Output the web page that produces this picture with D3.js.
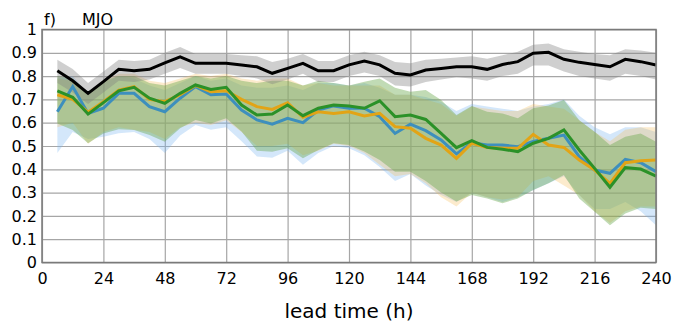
<!DOCTYPE html>
<html>
<head>
<meta charset="utf-8">
<script src="https://cdn.jsdelivr.net/npm/d3@7"></script>
<style>
  body { margin: 0; background: #fff; }
  svg { display: block; font-family: "DejaVu Sans", Verdana, sans-serif; }
  .grid line { stroke: #a6a6a6; stroke-width: 1.2; }
  .grid path { display: none; }
</style>
</head>
<body>
<svg id="chart" width="675" height="324"></svg>
<script>
// lead times (h)
var hours = [6,12,18,24,30,36,42,48,54,60,66,72,78,84,90,96,102,108,114,120,
             126,132,138,144,150,156,162,168,174,180,186,192,198,204,210,216,222,228,234,240];

var blackMean = [0.823,0.78,0.726,0.776,0.829,0.823,0.829,0.857,0.883,0.855,0.855,0.855,0.848,0.84,0.812,0.833,0.855,0.823,0.823,0.848,
                 0.865,0.848,0.812,0.805,0.826,0.833,0.84,0.84,0.829,0.85,0.862,0.898,0.902,0.872,0.859,0.85,0.84,0.872,0.862,0.848];
var blackHi = [0.87,0.83,0.77,0.82,0.87,0.865,0.87,0.9,0.925,0.895,0.895,0.895,0.89,0.885,0.86,0.875,0.895,0.865,0.865,0.89,
               0.905,0.89,0.86,0.855,0.87,0.875,0.88,0.885,0.875,0.89,0.905,0.935,0.94,0.915,0.905,0.895,0.89,0.915,0.91,0.9];
var blackLo = [0.77,0.73,0.68,0.73,0.78,0.775,0.785,0.81,0.835,0.81,0.81,0.81,0.8,0.79,0.765,0.785,0.81,0.775,0.775,0.8,
               0.815,0.8,0.76,0.755,0.775,0.785,0.795,0.79,0.78,0.8,0.81,0.845,0.845,0.82,0.8,0.79,0.78,0.81,0.8,0.785];

var blueMean = [0.647,0.755,0.64,0.662,0.726,0.726,0.669,0.647,0.705,0.755,0.72,0.723,0.654,0.612,0.594,0.619,0.6,0.654,0.672,0.662,
                0.662,0.626,0.554,0.594,0.566,0.526,0.466,0.514,0.504,0.504,0.497,0.519,0.533,0.547,0.454,0.397,0.383,0.443,0.428,0.39];
var blueHi = [0.79,0.8,0.72,0.77,0.8,0.79,0.76,0.74,0.77,0.8,0.78,0.79,0.76,0.75,0.75,0.76,0.74,0.77,0.77,0.76,
              0.77,0.75,0.72,0.72,0.71,0.69,0.65,0.68,0.67,0.66,0.65,0.67,0.68,0.7,0.63,0.58,0.55,0.58,0.58,0.56];
var blueLo = [0.47,0.56,0.53,0.54,0.555,0.56,0.53,0.47,0.545,0.59,0.57,0.58,0.52,0.455,0.45,0.48,0.42,0.47,0.5,0.49,
              0.46,0.41,0.35,0.38,0.33,0.29,0.26,0.3,0.28,0.26,0.28,0.31,0.34,0.37,0.29,0.23,0.23,0.26,0.22,0.16];

var orangeMean = [0.72,0.7,0.645,0.69,0.74,0.755,0.7,0.69,0.72,0.76,0.733,0.737,0.7,0.669,0.657,0.686,0.623,0.647,0.64,0.647,
                  0.629,0.64,0.583,0.576,0.533,0.504,0.447,0.512,0.494,0.49,0.49,0.55,0.504,0.494,0.44,0.397,0.34,0.428,0.437,0.44];
var orangeHi = [0.79,0.78,0.73,0.78,0.81,0.81,0.78,0.77,0.79,0.81,0.8,0.81,0.79,0.78,0.79,0.79,0.76,0.77,0.76,0.76,
                0.76,0.76,0.72,0.72,0.7,0.68,0.63,0.67,0.66,0.65,0.65,0.68,0.67,0.66,0.61,0.56,0.52,0.57,0.58,0.58];
var orangeLo = [0.58,0.6,0.51,0.56,0.58,0.57,0.56,0.53,0.58,0.6,0.59,0.61,0.56,0.5,0.5,0.51,0.46,0.48,0.51,0.5,
                0.47,0.42,0.37,0.38,0.34,0.28,0.24,0.3,0.28,0.27,0.28,0.35,0.37,0.33,0.29,0.22,0.17,0.22,0.24,0.24];

var greenMean = [0.737,0.709,0.637,0.686,0.737,0.752,0.705,0.683,0.726,0.762,0.743,0.752,0.676,0.633,0.637,0.676,0.63,0.662,0.676,0.672,
                 0.662,0.694,0.626,0.633,0.614,0.554,0.493,0.523,0.494,0.486,0.476,0.512,0.533,0.569,0.483,0.404,0.323,0.407,0.401,0.371];
var greenHi = [0.8,0.79,0.72,0.78,0.8,0.8,0.77,0.76,0.78,0.8,0.79,0.8,0.78,0.77,0.78,0.78,0.76,0.78,0.77,0.76,
               0.776,0.79,0.75,0.733,0.74,0.697,0.633,0.672,0.647,0.64,0.619,0.662,0.674,0.697,0.61,0.561,0.504,0.54,0.554,0.518];
var greenLo = [0.597,0.569,0.512,0.554,0.572,0.569,0.547,0.518,0.576,0.612,0.597,0.619,0.562,0.48,0.475,0.49,0.447,0.483,0.512,0.504,
               0.476,0.44,0.39,0.39,0.35,0.3,0.262,0.29,0.275,0.254,0.275,0.311,0.34,0.376,0.275,0.218,0.16,0.21,0.235,0.23];

var xTicks = [0,24,48,72,96,120,144,168,192,216,240];
var yTicks = [0,0.1,0.2,0.3,0.4,0.5,0.6,0.7,0.8,0.9,1];

var margin = {left: 42, top: 29.5, right: 19, bottom: 61.5};
var svg = d3.select("#chart");
var W = 675 - margin.left - margin.right;
var H = 324 - margin.top - margin.bottom;

var x = d3.scaleLinear().domain([0, 240]).range([0, W]);
var y = d3.scaleLinear().domain([0, 1]).range([H, 0]);

var g = svg.append("g").attr("transform", "translate(" + margin.left + "," + margin.top + ")");

// grid
g.append("g").attr("class", "grid")
  .call(d3.axisLeft(y).tickValues(yTicks).tickSize(-W).tickFormat(""));
g.append("g").attr("class", "grid").attr("transform", "translate(0," + H + ")")
  .call(d3.axisBottom(x).tickValues(xTicks).tickSize(-H).tickFormat(""));

var series = [
  {mean: blueMean, hi: blueHi, lo: blueLo, line: "#3d8fbd", fill: "rgb(120,180,240)", op: 0.32},
  {mean: orangeMean, hi: orangeHi, lo: orangeLo, line: "#e2a416", fill: "rgb(245,190,90)", op: 0.3},
  {mean: greenMean, hi: greenHi, lo: greenLo, line: "#2b9128", fill: "rgb(100,165,70)", op: 0.4},
  {mean: blackMean, hi: blackHi, lo: blackLo, line: "#000", fill: "rgb(130,130,130)", op: 0.38}
];

var area = function(s) {
  return d3.area()
    .x(function(d, i) { return x(hours[i]); })
    .y0(function(d, i) { return y(s.lo[i]); })
    .y1(function(d, i) { return y(s.hi[i]); });
};
var line = d3.line()
  .x(function(d, i) { return x(hours[i]); })
  .y(function(d) { return y(d); });

series.forEach(function(s) {
  g.append("path")
    .datum(s.mean)
    .attr("d", area(s))
    .attr("fill", s.fill)
    .attr("fill-opacity", s.op);
});

series.forEach(function(s) {
  g.append("path")
    .datum(s.mean)
    .attr("d", line)
    .attr("fill", "none")
    .attr("stroke", s.line)
    .attr("stroke-width", 3)
    .attr("stroke-linejoin", "miter");
});

// frame
g.append("rect")
  .attr("width", W).attr("height", H)
  .attr("fill", "none")
  .attr("stroke", "#7a7a7a")
  .attr("stroke-width", 1.5);

// tick labels
var yAxis = g.append("g")
  .call(d3.axisLeft(y).tickValues(yTicks).tickSize(0).tickPadding(5)
    .tickFormat(function(d) { return String(+d.toFixed(1)); }));
yAxis.select(".domain").remove();
yAxis.selectAll("text").attr("font-size", 16).attr("fill", "#000")
  .attr("font-family", "DejaVu Sans");

var xAxis = g.append("g").attr("transform", "translate(0," + H + ")")
  .call(d3.axisBottom(x).tickValues(xTicks).tickSize(0).tickPadding(10));
xAxis.select(".domain").remove();
xAxis.selectAll("text").attr("font-size", 16).attr("fill", "#000")
  .attr("font-family", "DejaVu Sans");

svg.append("text")
  .attr("x", margin.left + W / 2).attr("y", 318)
  .attr("text-anchor", "middle")
  .attr("font-size", 20)
  .text("lead time (h)");

svg.append("text").attr("x", 44).attr("y", 25).attr("font-size", 16).text("f)");
svg.append("text").attr("x", 82).attr("y", 25).attr("font-size", 16).text("MJO");
</script>
</body>
</html>
